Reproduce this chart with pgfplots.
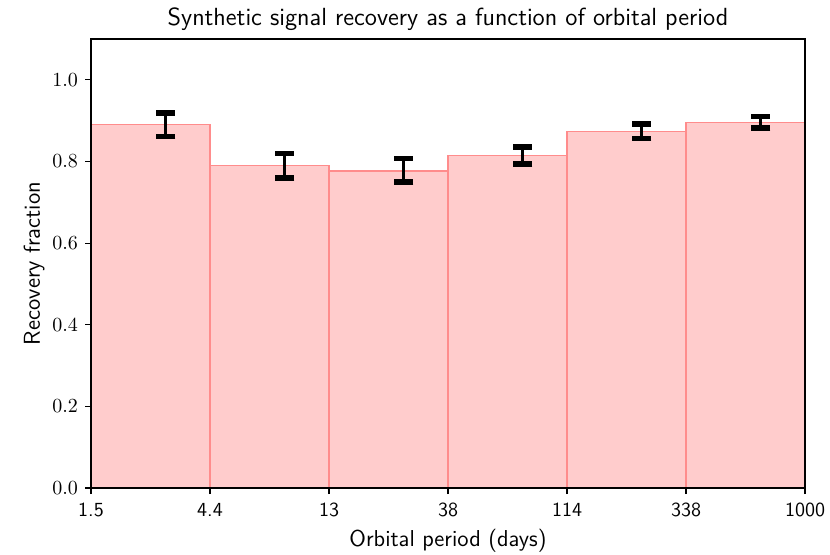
\documentclass[border=0pt]{standalone}
\usepackage{pgfplots}
\pgfplotsset{compat=1.18}
\usetikzlibrary{calc}
\definecolor{barfill}{RGB}{255,204,204}
\definecolor{baredge}{RGB}{255,140,140}
\begin{document}
\begin{tikzpicture}
\begin{axis}[
  scale only axis,
  width=357pt, height=224.5pt,
  xmin=0, xmax=6, ymin=0, ymax=1.1,
  xtick={0,1,2,3,4,5,6},
  xticklabels={1.5,4.4,13,38,114,338,1000},
  xticklabel style={font=\sffamily\fontsize{10}{12}\selectfont, yshift=-1pt},
  ytick={0,0.2,0.4,0.6,0.8,1.0},
  yticklabel style={font=\fontsize{10}{12}\selectfont, /pgf/number format/.cd, fixed, fixed zerofill, precision=1},
  tick align=outside, tick pos=left,
  major tick length=3pt,
  every tick/.style={black, line width=0.6pt},
  axis line style={line width=0.6pt},
  xlabel={Orbital period (days)},
  ylabel={Recovery fraction},
  label style={font=\sffamily\fontsize{11.5}{13}\selectfont},
  ylabel style={yshift=-3pt},
  xlabel style={yshift=1pt},
  title={Synthetic signal recovery as a function of orbital period},
  title style={font=\sffamily\fontsize{12.4}{14}\selectfont, yshift=-5.5pt},
  axis on top,
]
\addplot[ybar interval, fill=barfill, draw=baredge, line width=0.7pt]
  coordinates {(0,0.890) (1,0.790) (2,0.777) (3,0.815) (4,0.874) (5,0.896) (6,0.896)};
\addplot[draw=none, mark=none,
  error bars/.cd, y dir=both, y explicit,
  error bar style={black, line width=1.5pt},
  error mark=|,
  error mark options={black, line width=2.8pt, mark size=4.75pt}]
  coordinates {
   (0.63,0.8895) +- (0,0.0285)
   (1.63,0.790) +- (0,0.030)
   (2.63,0.7785) +- (0,0.0285)
   (3.63,0.815) +- (0,0.021)
   (4.63,0.874) +- (0,0.018)
   (5.63,0.896) +- (0,0.014)
  };
\end{axis}
\pgfresetboundingbox
\path[use as bounding box] ($(current axis.south west)+(-45.5pt,-33pt)$) rectangle ($(current axis.north east)+(12.5pt,19.5pt)$);
\end{tikzpicture}
\end{document}
